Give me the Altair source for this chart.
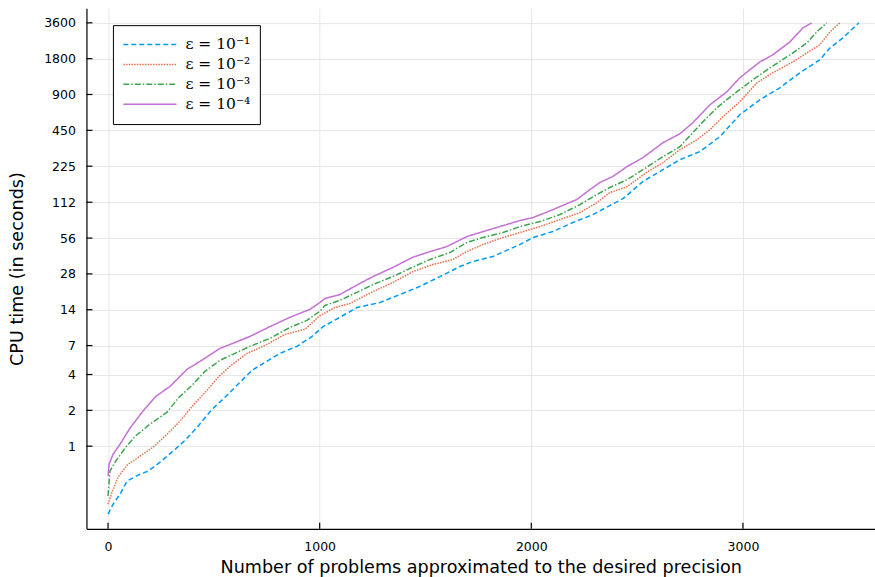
import altair as alt
import pandas as pd

# Series labels and styles
labels = ["ε = 10⁻¹", "ε = 10⁻²", "ε = 10⁻³", "ε = 10⁻⁴"]
colors = ["#009AFA", "#E36F47", "#3EA44E", "#C371D2"]
dashes = [[5, 3], [1.5, 1.2], [6, 2, 1.5, 2], [1, 0]]

# Number of problems solved (x) against CPU time in seconds (y)
n_e1 = [0, 24, 57, 90, 142, 189, 246, 307, 364, 425, 487, 553, 624, 680, 742, 812,
        893, 964, 1016, 1096, 1176, 1285, 1379, 1474, 1568, 1663, 1724, 1819, 1946,
        2008, 2102, 2196, 2291, 2371, 2433, 2527, 2622, 2702, 2796, 2891, 2985, 3080,
        3174, 3269, 3363, 3411, 3472, 3548]
t_e1 = [0.269, 0.326, 0.396, 0.509, 0.571, 0.617, 0.734, 0.908, 1.12, 1.47, 2.00,
        2.58, 3.44, 4.34, 5.06, 6.02, 6.90, 8.36, 10.1, 12.1, 14.6, 16.1, 18.8, 22.0,
        26.6, 32.3, 35.6, 39.2, 49.4, 56.6, 63.5, 75.6, 88.2, 105, 120, 167, 210, 255,
        298, 398, 608, 812, 1024, 1370, 1760, 2210, 2690, 3600]

n_e2 = [0, 19, 47, 90, 151, 213, 279, 340, 402, 468, 520, 576, 657, 742, 836, 931,
        1001, 1072, 1143, 1252, 1346, 1441, 1535, 1630, 1696, 1771, 1866, 1946, 2041,
        2135, 2230, 2310, 2371, 2452, 2546, 2622, 2702, 2782, 2844, 2905, 2985, 3066,
        3141, 3236, 3302, 3363, 3411, 3458]
t_e2 = [0.326, 0.411, 0.549, 0.693, 0.824, 0.981, 1.26, 1.62, 2.21, 2.95, 3.79, 4.69,
        6.02, 7.03, 8.69, 9.6, 12.5, 14.6, 15.8, 19.9, 23.7, 29.3, 33.6, 37.0, 43.2,
        49.4, 56.6, 62.3, 70.0, 80.1, 91.7, 111, 135, 151, 200, 241, 309, 375, 455,
        585, 781, 1128, 1370, 1690, 2010, 2350, 3020, 3600]

n_e3 = [0, 9, 33, 80, 128, 198, 279, 331, 397, 458, 529, 590, 671, 765, 860, 940,
        1001, 1025, 1096, 1176, 1252, 1346, 1436, 1521, 1615, 1696, 1771, 1866, 1946,
        2041, 2135, 2230, 2310, 2371, 2452, 2527, 2622, 2702, 2763, 2811, 2877, 2952,
        3047, 3127, 3222, 3302, 3349, 3396]
t_e3 = [0.381, 0.617, 0.734, 0.962, 1.21, 1.53, 1.93, 2.53, 3.25, 4.25, 5.26, 5.91,
        6.90, 8.05, 9.95, 11.4, 13.6, 15.2, 16.8, 19.6, 22.8, 26.6, 31.7, 37.0, 42.3,
        51.4, 56.6, 62.3, 70.0, 77.0, 88.2, 107, 130, 149, 173, 210, 270, 328, 430,
        531, 696, 894, 1195, 1506, 1937, 2440, 3020, 3600]

n_e4 = [0, 5, 24, 57, 104, 165, 227, 293, 373, 435, 529, 590, 671, 765, 860, 954,
        1001, 1025, 1096, 1190, 1252, 1346, 1436, 1507, 1601, 1696, 1804, 1946, 2008,
        2102, 2215, 2277, 2324, 2385, 2452, 2527, 2622, 2702, 2763, 2844, 2924, 2985,
        3080, 3141, 3222, 3283, 3325]
t_e4 = [0.56, 0.707, 0.857, 1.04, 1.42, 1.97, 2.63, 3.18, 4.42, 5.16, 6.63, 7.31,
        8.36, 10.1, 12.1, 14.1, 16.1, 17.4, 18.8, 23.3, 26.6, 31.7, 38.4, 42.3, 47.5,
        57.7, 66.0, 78.5, 83.2, 97.1, 118, 143, 164, 184, 223, 265, 354, 421, 521, 737,
        948, 1243, 1690, 1937, 2490, 3260, 3600]

x_ticks = [0, 1000, 2000, 3000]
y_ticks = [1, 2, 4, 7, 14, 28, 56, 112, 225, 450, 900, 1800, 3600]

rows = []
for lab, xs, ys in zip(labels, [n_e1, n_e2, n_e3, n_e4], [t_e1, t_e2, t_e3, t_e4]):
    for i, (xv, yv) in enumerate(zip(xs, ys)):
        rows.append({"series": lab, "n": xv, "t": yv, "order": i})
df = pd.DataFrame(rows)

W, H = 789, 521
TICK = 6

x_scale = alt.Scale(domain=[-102, 3624], nice=False, zero=False)
y_scale = alt.Scale(type="log", domain=[0.202, 4780], nice=False)

axis_common = dict(
    grid=True, gridColor="#e6e6e6", gridWidth=1,
    domainColor="black", domainWidth=1.2,
    ticks=False, tickSize=0, format="d",
)
x_axis = alt.Axis(values=x_ticks, labelPadding=12, titlePadding=5.5,
                  title="Number of problems approximated to the desired precision",
                  **axis_common)
y_axis = alt.Axis(values=y_ticks, labelPadding=11, titlePadding=17,
                  title="CPU time (in seconds)", **axis_common)

legend = alt.Legend(
    title=None, orient="none", legendX=26.5, legendY=17,
    symbolType="stroke", symbolSize=2840, symbolStrokeWidth=1.5,
    clipHeight=19.5, rowPadding=0, padding=9.5,
    labelFont="DejaVu Serif", labelFontSize=15.5, labelOffset=8,
    labelBaseline="middle", labelColor="black",
    strokeColor="black", fillColor="white", cornerRadius=0,
)

lines = alt.Chart(df).mark_line(strokeWidth=1.5, clip=True).encode(
    x=alt.X("n:Q", scale=x_scale, axis=x_axis),
    y=alt.Y("t:Q", scale=y_scale, axis=y_axis),
    color=alt.Color("series:N", scale=alt.Scale(domain=labels, range=colors), legend=legend),
    strokeDash=alt.StrokeDash("series:N", scale=alt.Scale(domain=labels, range=dashes),
                              legend=legend),
    order="order:Q",
)

# Inward tick marks on the two spines
x_tick_marks = alt.Chart(pd.DataFrame({"n": x_ticks})).mark_rule(
    color="black", strokeWidth=1.2
).encode(
    x=alt.X("n:Q", scale=x_scale, axis=x_axis),
    y=alt.value(H), y2=alt.value(H - TICK),
)
y_tick_marks = alt.Chart(pd.DataFrame({"t": y_ticks})).mark_rule(
    color="black", strokeWidth=1.2
).encode(
    y=alt.Y("t:Q", scale=y_scale, axis=y_axis),
    x=alt.value(0), x2=alt.value(TICK),
)

chart = alt.layer(lines, x_tick_marks, y_tick_marks).properties(
    width=W, height=H,
    padding={"left": 86.5, "top": 8, "right": 0, "bottom": 48},
    autosize=alt.AutoSizeParams(type="none"),
).configure_view(stroke=None).configure_axis(
    labelFont="DejaVu Sans", titleFont="DejaVu Sans",
    labelFontSize=12.5, titleFontSize=17.6,
    labelColor="black", titleColor="black", titleFontWeight="normal",
)

chart.save("out.html", embed_options={"renderer": "svg", "actions": False})
